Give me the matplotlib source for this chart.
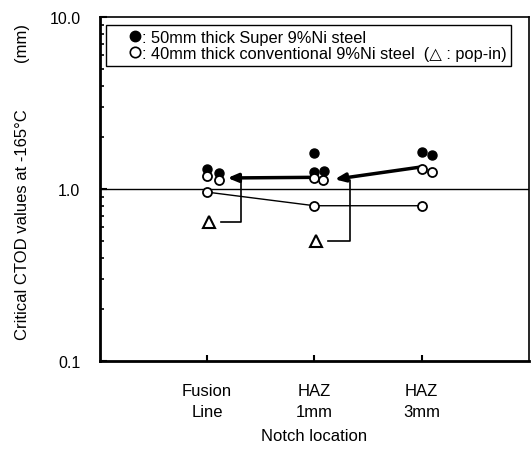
import matplotlib.pyplot as plt
from matplotlib.lines import Line2D

plt.rcParams['font.family'] = ['Liberation Sans', 'DejaVu Sans']

# notch locations
locations = [1, 2, 3]
loc_labels = ['Fusion\nLine', 'HAZ\n1mm', 'HAZ\n3mm']

# 50mm thick Super 9%Ni steel (filled circles)
super_x = [1, 1, 2, 2, 2, 3, 3]
super_vals = [1.31, 1.24, 1.62, 1.26, 1.27, 1.64, 1.58]
super_shift = [0, 0.11, 0, 0, 0.09, 0, 0.10]

# 40mm thick conventional 9%Ni steel (open circles)
conv_x = [1, 1, 2, 2, 3, 3]
conv_vals = [1.19, 1.13, 1.16, 1.13, 1.31, 1.26]
conv_shift = [0, 0.11, 0, 0.08, 0, 0.10]

# lowest conventional values, joined by a line
conv_low = [0.96, 0.80, 0.80]

# pop-in values (triangles)
popin_x = [1, 2]
popin_vals = [0.64, 0.50]

fig = plt.figure(figsize=(5.31, 4.52), dpi=100)
ax = fig.add_axes([0.188, 0.199, 0.808, 0.761])
ax.set_yscale('log')
ax.set_ylim(0.1, 10)
ax.set_xlim(0, 4)

ax.axhline(1.0, color='black', lw=1.0, zorder=1)

# thick trend arrows between locations
ax.annotate('', xy=(1.19, 1.16), xytext=(1.98, 1.17),
            arrowprops=dict(arrowstyle='-|>,head_length=0.6,head_width=0.25',
                            color='black', lw=2.5, shrinkA=0, shrinkB=0))
ax.annotate('', xy=(2.19, 1.14), xytext=(2.98, 1.34),
            arrowprops=dict(arrowstyle='-|>,head_length=0.6,head_width=0.25',
                            color='black', lw=2.5, shrinkA=0, shrinkB=0))

# brackets from pop-in triangles to arrows
for px, pv, bx, top in [(1, popin_vals[0], 1.32, 1.14), (2, popin_vals[1], 2.33, 1.13)]:
    ax.plot([px + 0.13, bx, bx, bx - 0.07], [pv, pv, top, top],
            color='black', lw=1.2, zorder=2)

ax.plot(locations, conv_low, color='black', lw=1.0, marker='o', ms=6.5,
        mfc='white', mec='black', mew=1.3, zorder=4)

ax.plot([x + s for x, s in zip(super_x, super_shift)], super_vals, 'o', ms=6.5,
        mfc='black', mec='black', zorder=3)
ax.plot([x + s for x, s in zip(conv_x, conv_shift)], conv_vals, 'o', ms=6.5,
        mfc='white', mec='black', mew=1.3, zorder=4)
ax.plot([x + 0.02 for x in popin_x], popin_vals, '^', ms=8,
        mfc='white', mec='black', mew=1.5, zorder=4)

ax.set_xticks(locations)
ax.set_xticklabels(loc_labels, fontsize=12, linespacing=1.45)
ax.set_yticks([0.1, 1, 10])
ax.set_yticklabels(['0.1', '1.0', '10.0'], fontsize=11.5)
ax.tick_params(axis='both', which='both', direction='in')
ax.tick_params(axis='y', which='major', length=5, width=1.5, pad=14)
ax.tick_params(axis='y', which='minor', length=3, width=1.2)
ax.tick_params(axis='x', length=4, width=1.5, pad=16)
for side in ['left', 'bottom']:
    ax.spines[side].set_linewidth(2)
for side in ['top', 'right']:
    ax.spines[side].set_linewidth(1.2)

ax.set_xlabel('Notch location', fontsize=12, labelpad=7)
ax.set_ylabel('Critical CTOD values at -165\u00b0C          (mm)', fontsize=12)
ax.yaxis.set_label_coords(-0.162, 0.523)

handles = [Line2D([], [], ls='', marker='o', ms=7.5, mfc='black', mec='black'),
           Line2D([], [], ls='', marker='o', ms=7.5, mfc='white', mec='black', mew=1.2)]
leg = ax.legend(handles, [': 50mm thick Super 9%Ni steel',
                          ': 40mm thick conventional 9%Ni steel  (\u25b3 : pop-in)'],
                loc='upper left', bbox_to_anchor=(0.014, 0.978), fontsize=11.8,
                handletextpad=-1.0, handlelength=2.9, borderpad=0.3,
                labelspacing=0.1, fancybox=False, edgecolor='black',
                framealpha=1, borderaxespad=0)
leg.get_frame().set_linewidth(1.0)

fig.savefig('out.png', dpi=100)
